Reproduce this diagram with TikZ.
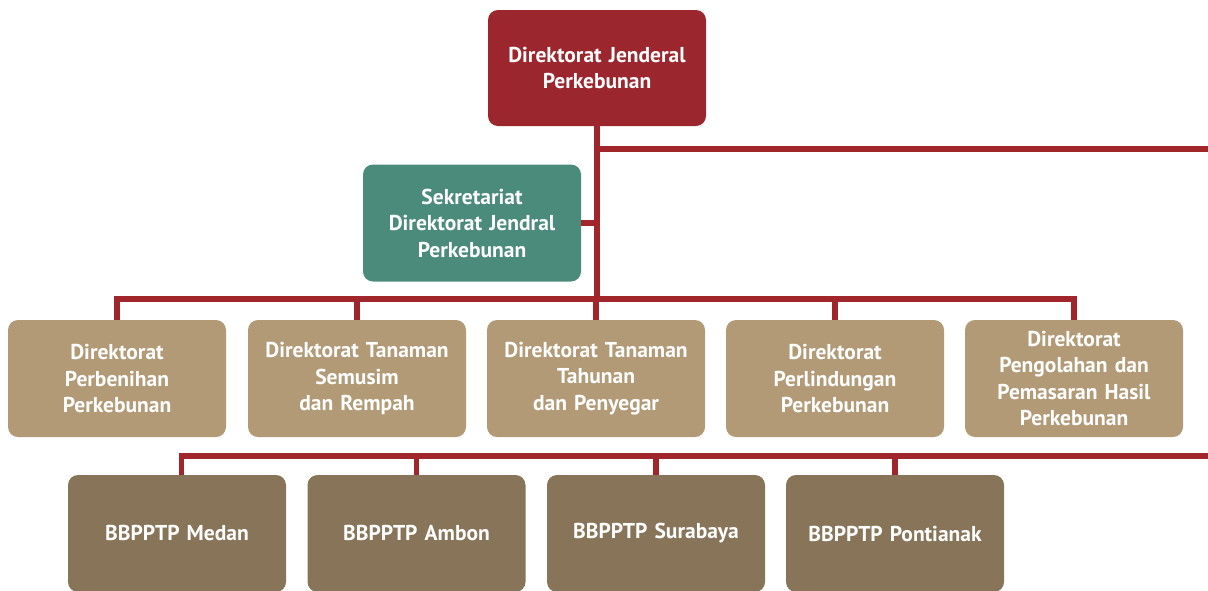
\documentclass[tikz,border=0pt]{standalone}
\usepackage{fontspec}
\setmainfont{PT Sans}
\usetikzlibrary{calc}
\definecolor{topred}{HTML}{9C262D}
\definecolor{linered}{HTML}{A0262C}
\definecolor{sekgreen}{HTML}{4B8B7C}
\definecolor{tan}{HTML}{B29A76}
\definecolor{brownbox}{HTML}{887559}
\tikzset{
  orgbox/.style={rounded corners=10pt, minimum width=218pt, minimum height=117pt,
    text width=214pt, align=center, inner sep=0pt, text=white,
    font=\fontsize{21.5}{26.5}\selectfont\bfseries},
  topbox/.style={orgbox, fill=topred, minimum height=116pt},
  sekbox/.style={orgbox, fill=sekgreen},
  dirbox/.style={orgbox, fill=tan},
  bbbox/.style={orgbox, fill=brownbox},
  conn/.style={draw=linered, line width=5.5pt}
}
\begin{document}
\begin{tikzpicture}[x=1pt,y=-1pt]
\useasboundingbox (0,0) rectangle (1208,590);
\clip (0,0) rectangle (1208,590);
% nodes
\node[topbox] (top) at (597,68) {Direktorat Jenderal\\Perkebunan};
\node[sekbox] (sek) at (472,223) {Sekretariat\\Direktorat Jendral\\Perkebunan};
\node[dirbox] (d1) at (117,378.5) {Direktorat\\Perbenihan\\Perkebunan};
\node[dirbox] (d2) at (357,378.5) {Direktorat Tanaman\\Semusim\\dan Rempah};
\node[dirbox] (d3) at (596,378.5) {Direktorat Tanaman\\Tahunan\\dan Penyegar};
\node[dirbox] (d4) at (835,378.5) {Direktorat\\Perlindungan\\Perkebunan};
\node[dirbox] (d5) at (1074,378.5) {Direktorat\\Pengolahan dan\\Pemasaran Hasil\\Perkebunan};
\node[bbbox] (b1) at (177,533.5) {BBPPTP Medan};
\node[bbbox] (b2) at (416.5,533.5) {BBPPTP Ambon};
\node[bbbox] (b3) at (656,533.5) {BBPPTP Surabaya};
\node[bbbox] (b4) at (895,533.5) {BBPPTP Pontianak};
% junctions
\coordinate (j1) at (597,299);
\coordinate (e1) at (1212,149);
\coordinate (e2) at (1212,456);
\coordinate (b1top) at ($(b1.north)+(4.5,0)$);
% connectors
\path[conn] (top.south) -- (j1);
\path[conn] (top.south |- e1) -- (e1);
\path[conn] (sek.east) -- (sek.east -| top.south);
\path[conn] (d1.north) |- (j1) -| (d5.north);
\foreach \d in {d2,d3,d4} \path[conn] (\d.north) -- (\d.north |- j1);
\path[conn] (b1top) |- (e2);
\foreach \b in {b2,b3,b4} \path[conn] (\b.north) -- (\b.north |- e2);
\end{tikzpicture}
\end{document}
